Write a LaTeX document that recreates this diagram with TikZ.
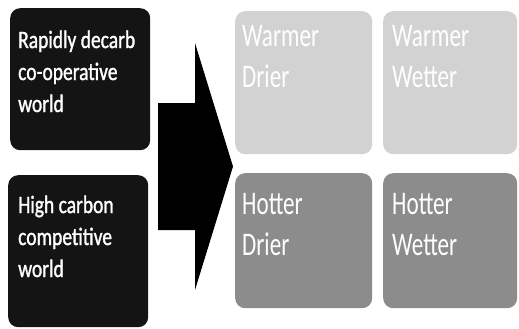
\documentclass[tikz,border=0pt]{standalone}
\usepackage{fontspec}
\setmainfont{Carlito}
\newfontfamily\worldfont[FakeStretch=0.78,FakeBold=1.2]{Carlito}
\newfontfamily\climfont[FakeStretch=0.70]{Carlito}
\usepackage{xcolor}
\usetikzlibrary{calc}

\definecolor{darkfill}{HTML}{141414}
\definecolor{lightfill}{HTML}{D2D2D2}
\definecolor{midfill}{HTML}{8C8C8C}

\begin{document}
\begin{tikzpicture}[x=1pt,y=-1pt,
    worldbox/.style={fill=darkfill,rounded corners=10pt,anchor=north west,
      inner sep=0pt,minimum width=140pt},
    climbox/.style={rounded corners=10pt,anchor=north west,inner sep=0pt},
    worldtext/.style={text=white,align=left,inner sep=0pt,anchor=base west,
      font=\worldfont\fontsize{25}{32}\selectfont},
    climtext/.style={text=white,align=left,inner sep=0pt,anchor=base west,
      font=\climfont\fontsize{33}{41}\selectfont}
  ]
    \useasboundingbox (0,0) rectangle (519,329);
    % socio-economic worlds
    \node[worldbox,minimum height=142pt] (rapid) at (10,8) {};
    \node[worldbox,minimum height=152pt] (highc) at (8,175) {};
    \node[worldtext] (rapidtxt) at ($(rapid.north west)+(8,104)$)
      {Rapidly decarb\\co-operative\\world};
    \node[worldtext] (highctxt) at ($(highc.north west)+(10,102)$)
      {High carbon\\competitive\\world};
    % big arrow
    \fill[black] (158,103) -- (195,103) -- (195,43) -- (233,166.5)
      -- (195,290) -- (195,230) -- (158,230) -- cycle;
    % climate futures
    \node[climbox,fill=lightfill,minimum width=137pt,minimum height=143pt] (warmdry) at (235,11) {};
    \node[climbox,fill=lightfill,minimum width=134pt,minimum height=143pt] (warmwet) at (383,11) {};
    \node[climbox,fill=midfill,minimum width=137pt,minimum height=135pt] (hotdry) at (235,173) {};
    \node[climbox,fill=midfill,minimum width=134pt,minimum height=135pt] (hotwet) at (383,173) {};
    \node[climtext] (warmdrytxt) at ($(warmdry.north west)+(7,77)$) {Warmer\\Drier};
    \node[climtext] (warmwettxt) at ($(warmwet.north west)+(9,77)$) {Warmer\\Wetter};
    \node[climtext] (hotdrytxt) at ($(hotdry.north west)+(7,82)$) {Hotter\\Drier};
    \node[climtext] (hotwettxt) at ($(hotwet.north west)+(9,82)$) {Hotter\\Wetter};
\end{tikzpicture}
\end{document}
